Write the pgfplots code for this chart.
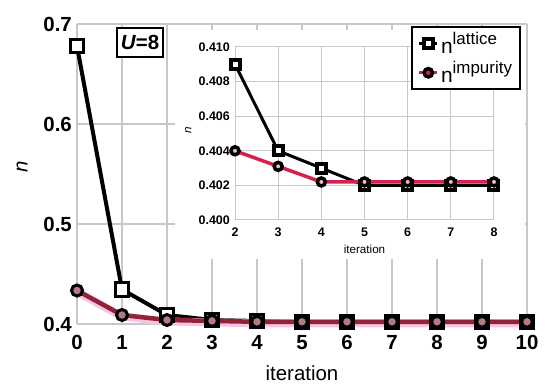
\documentclass[border=0pt]{standalone}
\usepackage{pgfplots}
\pgfplotsset{compat=1.18}
\usepackage{fontspec}
\setmainfont{Liberation Sans}
\definecolor{imp}{HTML}{8E2436}
\definecolor{impglow}{HTML}{F6C4E4}
\definecolor{impfill}{HTML}{B07A86}
\definecolor{impin}{HTML}{D4214F}
\definecolor{gridc}{HTML}{C8C8C8}

\begin{document}
\begin{tikzpicture}
\useasboundingbox (0,0) rectangle (550bp,390bp);
\begin{axis}[
  at={(77bp,66bp)}, anchor=south west,
  scale only axis, width=450bp, height=300bp,
  xmin=0, xmax=10, ymin=0.4, ymax=0.7,
  xtick={0,...,10}, ytick={0.4,0.5,0.6,0.7},
  clip=false,
  axis line style={draw=none},
  major tick length=0pt,
  grid=major, grid style={gridc, line width=1.2bp},
  scaled y ticks=false,
  /pgf/number format/assume math mode=true,
  xticklabel style={font=\fontsize{20.5}{21}\selectfont\bfseries, anchor=base, yshift=-26bp, inner sep=0pt},
  yticklabel style={font=\fontsize{20.5}{21}\selectfont\bfseries, anchor=east, xshift=-5bp, inner sep=0pt},
  yticklabel style={/pgf/number format/fixed, /pgf/number format/fixed zerofill, /pgf/number format/precision=1},
  xlabel={iteration}, ylabel={\textit{n}},
  every axis x label/.style={at={(axis description cs:0.5,-0.163)}, anchor=center, font=\fontsize{20.5}{22}\selectfont},
  every axis y label/.style={at={(axis description cs:-0.122,0.523)}, anchor=center, rotate=90, font=\fontsize{20.5}{22}\selectfont},
]
\addplot[black, line width=4bp, mark=square*, mark size=6.5bp, mark options={fill=white, draw=black, line width=3bp}]
  coordinates {(0,0.678) (1,0.4345) (2,0.409) (3,0.404) (4,0.403) (5,0.402) (6,0.402) (7,0.402) (8,0.402) (9,0.402) (10,0.402)};
\addplot[impglow, line width=8bp, yshift=-1.5bp, forget plot]
  coordinates {(0,0.4335) (1,0.409) (2,0.404) (3,0.4031) (4,0.4022) (5,0.4022) (6,0.4022) (7,0.4022) (8,0.4022) (9,0.4022) (10,0.4022)};
\addplot[imp, line width=4.5bp, mark=*, mark size=5.5bp, mark options={fill=impfill, draw=black, line width=3bp}]
  coordinates {(0,0.4335) (1,0.409) (2,0.404) (3,0.4031) (4,0.4022) (5,0.4022) (6,0.4022) (7,0.4022) (8,0.4022) (9,0.4022) (10,0.4022)};
\node[draw=black, line width=2bp, fill=white, inner sep=0pt, minimum width=46bp, minimum height=29bp, font=\fontsize{20.5}{21}\selectfont\bfseries]
  at (axis cs:1.4,0.6815) {\textit{U}=8};
\end{axis}

\fill[white] (175bp,131bp) rectangle (525bp,360bp);

\begin{axis}[
  at={(235bp,170bp)}, anchor=south west,
  scale only axis, width=259bp, height=173bp,
  xmin=2, xmax=8, ymin=0.4, ymax=0.41,
  xtick={2,...,8}, ytick={0.4,0.402,0.404,0.406,0.408,0.41},
  clip=false,
  axis line style={draw=none},
  major tick length=0pt,
  grid=major, grid style={gridc, line width=1bp},
  scaled y ticks=false,
  /pgf/number format/assume math mode=true,
  xticklabel style={font=\fontsize{12.5}{13}\selectfont\bfseries, anchor=base, yshift=-16.5bp, inner sep=0pt},
  yticklabel style={font=\fontsize{12.5}{13}\selectfont\bfseries, anchor=east, xshift=-5bp, inner sep=0pt},
  yticklabel style={/pgf/number format/fixed, /pgf/number format/fixed zerofill, /pgf/number format/precision=3},
  xlabel={iteration}, ylabel={\textit{n}},
  every axis x label/.style={at={(axis description cs:0.5,-0.168)}, anchor=center, font=\fontsize{11.7}{13}\selectfont},
  every axis y label/.style={at={(axis description cs:-0.181,0.52)}, anchor=center, rotate=90, font=\fontsize{11.7}{13}\selectfont},
  legend image code/.code={\draw[mark repeat=2,mark phase=2,#1] plot coordinates {(0bp,0bp) (9bp,0bp) (18bp,0bp)};},
  legend style={at={(1.1042,1.1214)}, anchor=north east, draw=black, line width=2bp,
    font=\fontsize{21}{22}\selectfont, inner xsep=6bp, inner ysep=3bp, row sep=2bp},
  legend cell align=left,
]
\addplot[black, line width=3bp, mark=square*, mark size=4.5bp, forget plot,
  every mark/.append style={fill=white, draw=black, line width=4bp}]
  coordinates {(2,0.409) (3,0.404) (4,0.403) (5,0.402) (6,0.402) (7,0.402) (8,0.402)};
\addplot[impin, line width=3.5bp, mark=*, mark size=4bp, forget plot,
  every mark/.append style={fill=impin!30!white, draw=black, line width=3.5bp}]
  coordinates {(2,0.404) (3,0.4031) (4,0.4022) (5,0.4022) (6,0.4022) (7,0.4022) (8,0.4022)};
\addlegendimage{black, line width=3.5bp, mark=square*, mark size=4.5bp, every mark/.append style={fill=white, draw=black, line width=4bp}}
\addlegendentry{n\raisebox{0.45em}{\fontsize{17}{17}\selectfont lattice}}
\addlegendimage{impin, line width=3.5bp, mark=*, mark size=4.2bp, every mark/.append style={fill=impin, draw=black, line width=3.5bp}}
\addlegendentry{n\raisebox{0.45em}{\fontsize{17}{17}\selectfont impurity}}
\end{axis}
\end{tikzpicture}
\end{document}
